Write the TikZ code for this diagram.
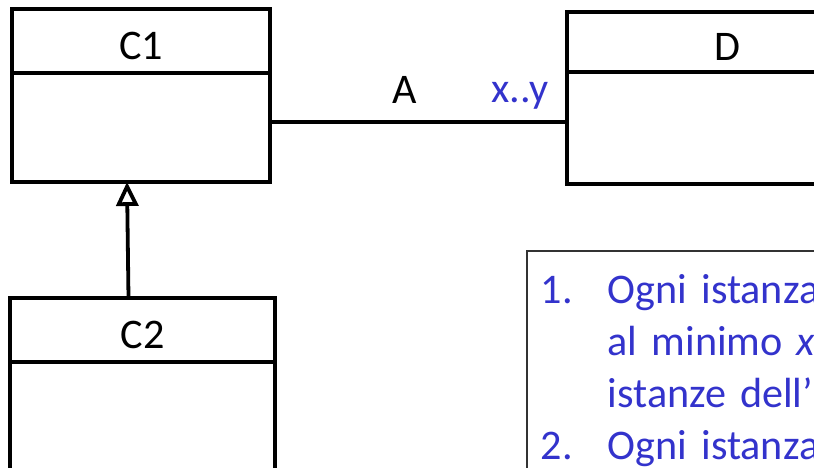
\documentclass[tikz,border=0pt]{standalone}
\usepackage{fontspec}
\setmainfont{Carlito}
\usepackage{xcolor}
\usepackage{tikz}
\usetikzlibrary{arrows.meta,positioning}
\definecolor{noteblue}{HTML}{3333CC}
\definecolor{notegray}{HTML}{333333}

\tikzset{
  classhead/.style={draw, line width=2.7pt, minimum height=1.6cm, inner sep=0pt, outer sep=0pt,
    text height=0.95cm, text depth=0cm},
  classbody/.style={draw, line width=2.7pt, inner sep=0pt, outer sep=0pt},
  notebox/.style={draw=notegray, line width=1.1pt, text=noteblue, align=left, text width=10cm,
    inner xsep=0.35cm, inner ysep=0.6cm, anchor=north west},
  isa/.style={line width=2.7pt, -{Triangle[open, length=0.6cm, width=0.55cm]}}
}

\begin{document}
\begin{tikzpicture}[every node/.style={font=\fontsize{30}{37}\selectfont}]
  \clip (0,0) rectangle (20.35,11.7);
  % classes
  \node[classhead, minimum width=6.45cm, anchor=north west] (c1) at (0.3,11.475) {C1};
  \node[classbody, minimum width=6.45cm, minimum height=2.725cm, below=0pt of c1] (c1body) {};
  \node[classhead, minimum width=8cm, minimum height=1.5cm, anchor=north west] (d) at (14.175,11.4) {D};
  \node[classbody, minimum width=8cm, minimum height=2.8cm, below=0pt of d] (dbody) {};
  \node[classhead, minimum width=6.625cm, anchor=north west] (c2) at (0.25,4.25) {C2};
  \node[classbody, minimum width=6.625cm, minimum height=5cm, below=0pt of c2] (c2body) {};
  % association
  \draw[line width=2.7pt] ([yshift=0.14cm]c1body.east) -- ([yshift=0.14cm]c1body.east -| dbody.west)
    node[pos=0.455, above=0.3cm] (assoc) {A}
    node[pos=1, above left=0.15cm and 0.3cm, text=noteblue] (mult) {x..y};
  % generalization
  \draw[isa] ([xshift=-0.35cm]c2.north) -- ([xshift=-0.35cm]c1body.south);
  % note
  \node[notebox] (note) at (13.15,5.45) {%
    \makebox[1.675cm][l]{1.}Ogni istanza\\
    \hspace*{1.675cm}al minimo \textit{x}\\
    \hspace*{1.675cm}istanze dell’\\
    \makebox[1.675cm][l]{2.}Ogni istanza};
\end{tikzpicture}
\end{document}
